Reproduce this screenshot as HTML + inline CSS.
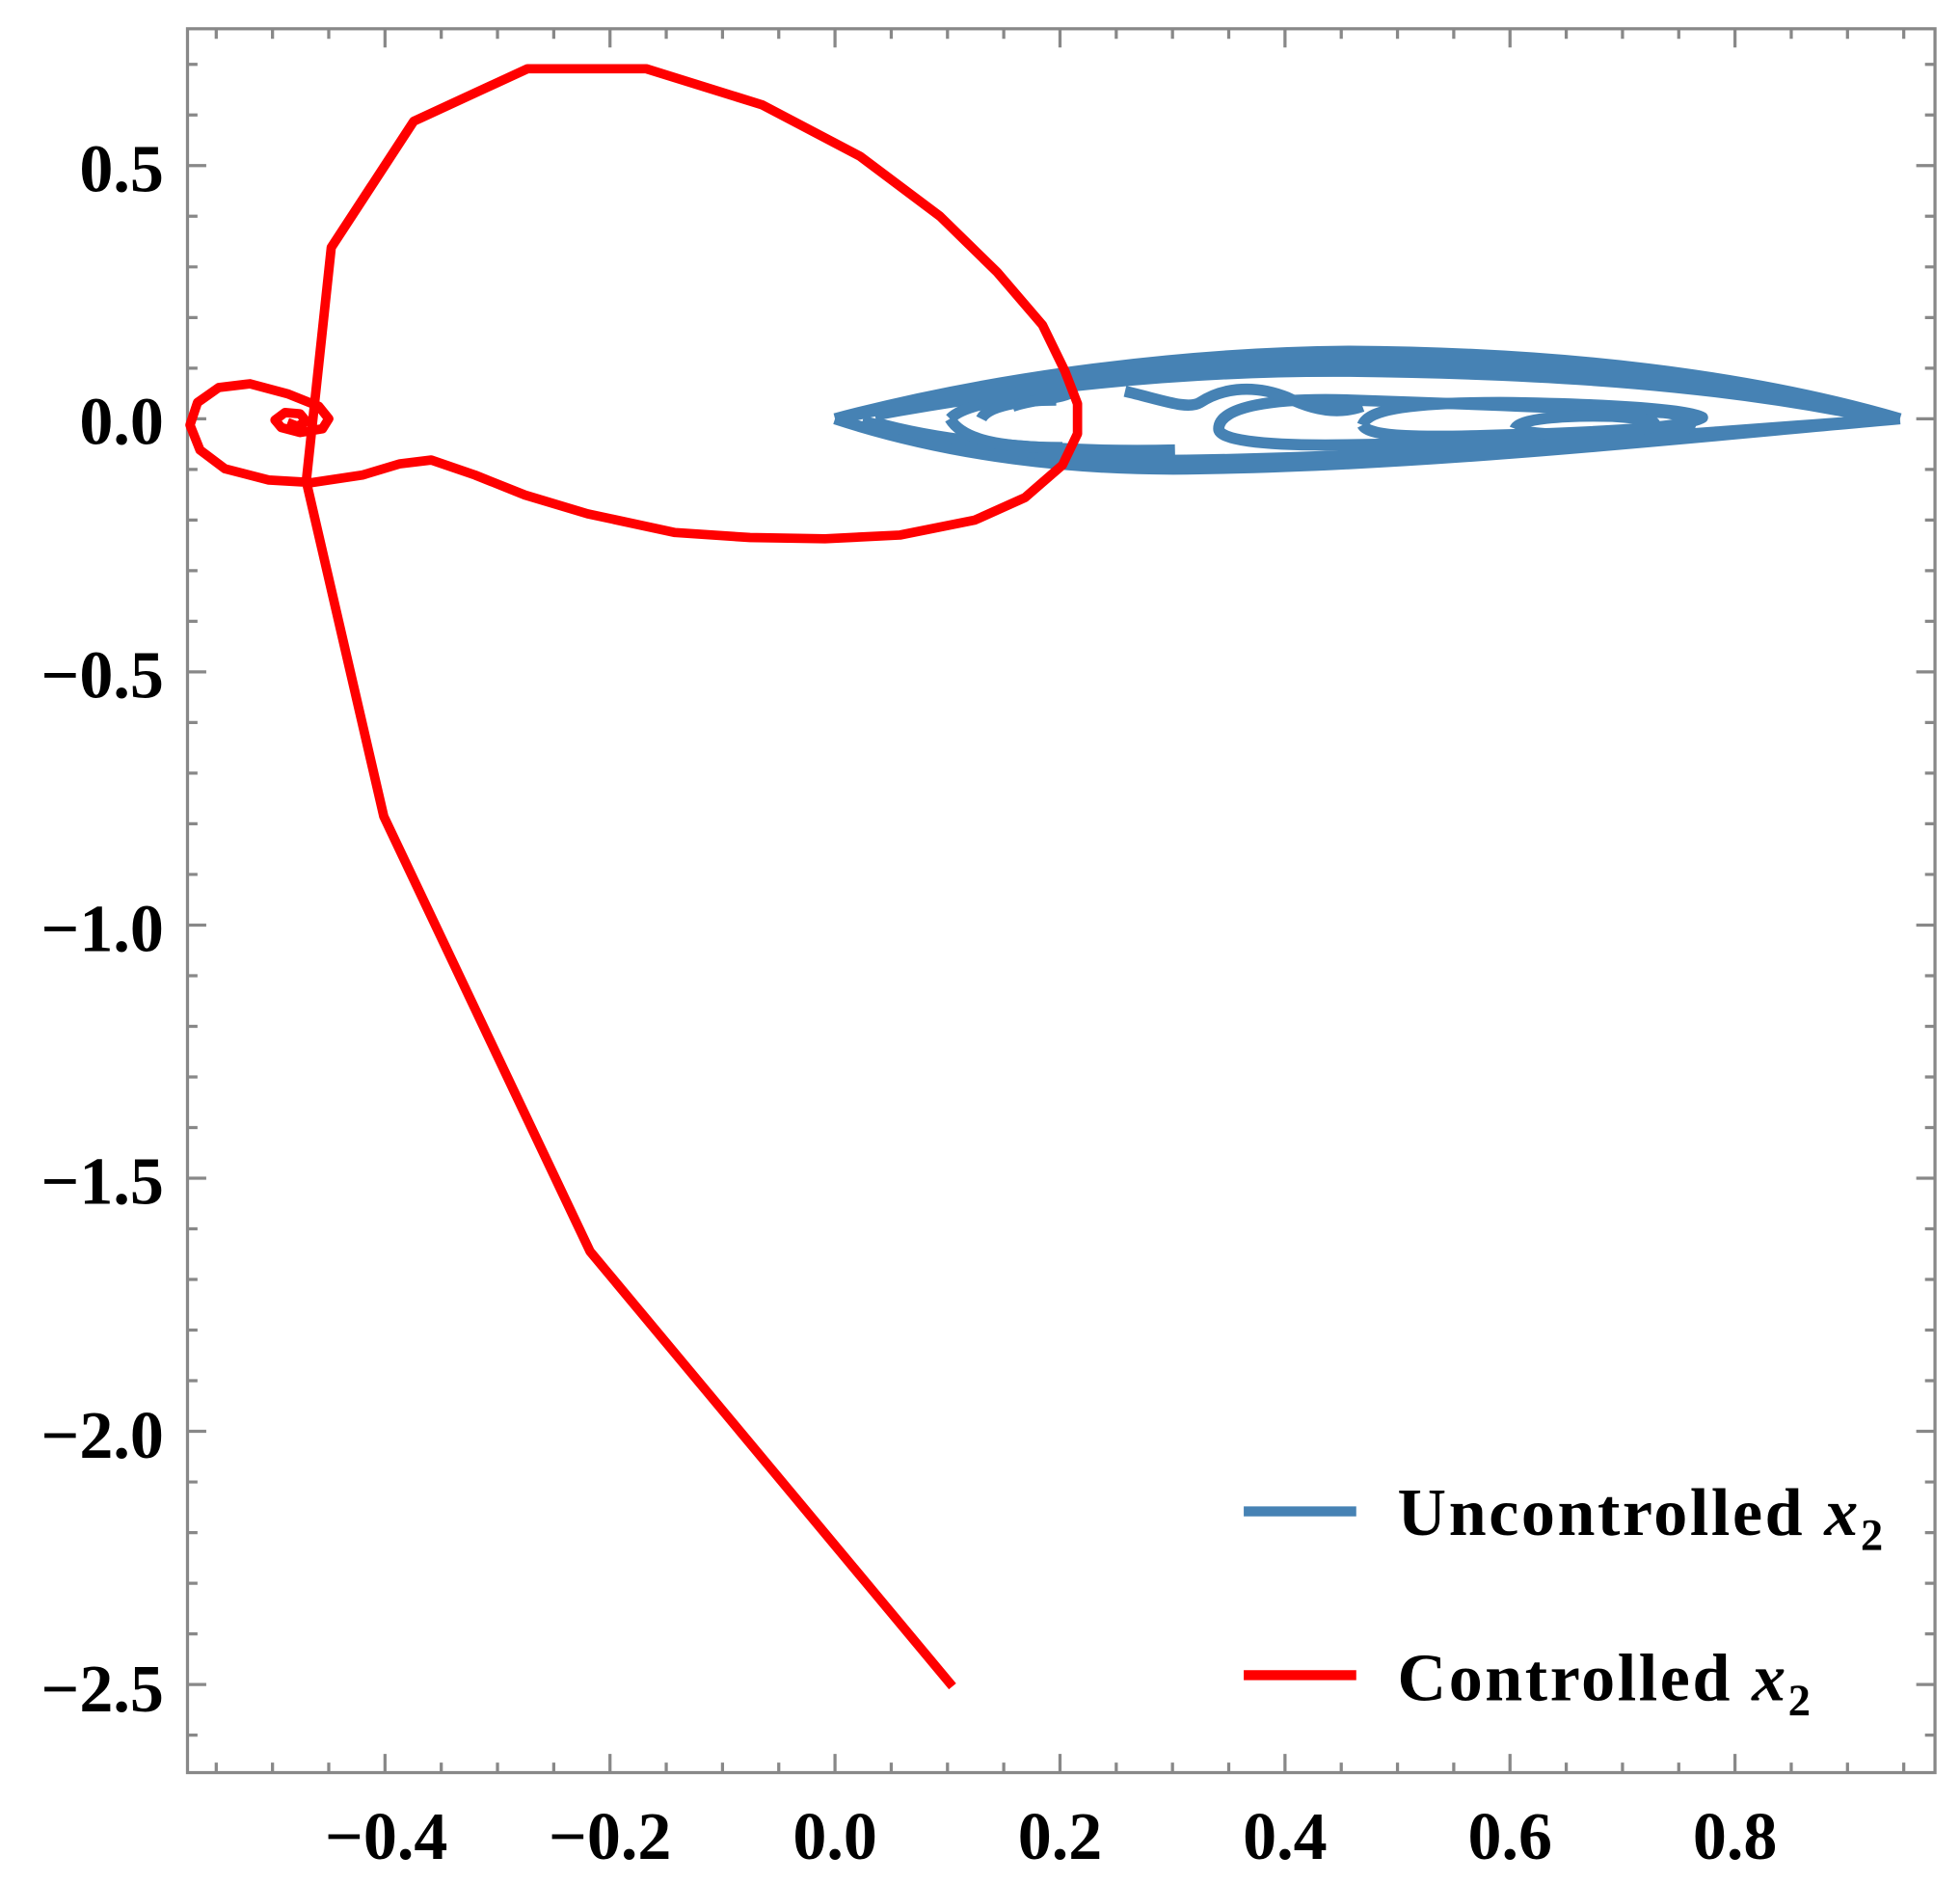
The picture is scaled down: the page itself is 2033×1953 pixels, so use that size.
<!DOCTYPE html>
<html><head><style>html,body{margin:0;padding:0;background:#fff}svg{display:block}</style></head>
<body>
<svg width="2033" height="1953" viewBox="0 0 1568 1506.3" xmlns="http://www.w3.org/2000/svg" font-family="Liberation Serif, serif" font-weight="bold">
<rect x="0" y="0" width="1568" height="1507" fill="#fff"/>
<g id="ticks" stroke="#888" stroke-width="2.5">
<path id="t" d=""/>
</g>
<script>
(function(){
var s='';
for(var i=-11;i<=19;i++){var v=i*0.05;var x=668+v*900;if(x<152||x>1546)continue;var L=(i%4==0)?15:8;
s+='M'+x+' 1418v-'+L+'M'+x+' 23v'+L;}
for(var j=-26;j<=7;j++){var v=j*0.1;var y=335-v*405;if(y<25||y>1416)continue;var L=(j%5==0)?15:8;
s+='M150 '+y+'h'+L+'M1548 '+y+'h-'+L;}
document.getElementById('t').setAttribute('d',s);
})();
</script>
<rect x="150" y="23" width="1398" height="1395" fill="none" stroke="#888" stroke-width="2.5"/>
<g font-size="54" text-anchor="end">
<text x="131" y="153">0.5</text>
<text x="131" y="355">0.0</text>
<text x="131" y="558">−0.5</text>
<text x="131" y="761">−1.0</text>
<text x="131" y="963">−1.5</text>
<text x="131" y="1166">−2.0</text>
<text x="131" y="1369">−2.5</text>
</g>
<g font-size="54" text-anchor="middle">
<text x="309" y="1487">−0.4</text>
<text x="488" y="1487">−0.2</text>
<text x="668" y="1487">0.0</text>
<text x="848" y="1487">0.2</text>
<text x="1028" y="1487">0.4</text>
<text x="1208" y="1487">0.6</text>
<text x="1388" y="1487">0.8</text>
</g>
<g fill="none" stroke="#4682b4" stroke-width="9" stroke-linejoin="round">
<path d="M668 335 C800 300 950 282 1080 281 C1250 282 1400 300 1520 335"/>
<path d="M680 333 C800 305 950 290 1080 289 C1250 291 1400 304 1515 335"/>
<path d="M700 332 C820 310 950 296 1080 297 C1250 299 1380 309 1500 334"/>
<path d="M668 335 C760 365 860 377 960 375 C1150 372 1350 350 1520 335"/>
<path d="M690 337 C780 360 870 370 960 368 C1150 365 1330 348 1505 336"/>
<path d="M700 338 C760 355 850 362 940 360"/>
<path d="M760 335 C770 325 800 318 840 318 M760 335 C770 352 800 358 850 358"/>
<path d="M785 335 C790 325 815 320 845 320"/>
<path d="M975 343 C975 325 1020 318 1080 320 C1140 322 1230 325 1330 330 C1360 333 1360 345 1330 347 C1250 352 1150 355 1060 356 C1010 356 975 352 975 343"/>
<path d="M1090 340 C1095 327 1130 322 1200 322 C1280 323 1350 327 1362 334 C1350 342 1280 346 1200 348 C1140 350 1095 350 1090 340"/>
<path d="M1212 343 C1215 335 1250 332 1290 333 C1320 335 1330 338 1320 342 C1290 348 1230 350 1212 343"/>
<path d="M900 313 C930 320 950 328 960 322 C975 312 1000 306 1030 318 C1050 328 1070 332 1090 325"/>
<path d="M810 325 C830 318 850 320 860 312"/>
</g>
<path fill="none" stroke="#ff0000" stroke-width="7.5" stroke-linejoin="round" d="M762 1349 L472 1001 L307 653 L245 385 L265 198 L331 97 L422 55 L517 55 L610 84 L688 125 L752 173 L798 218 L834 260 L852 297 L862 323 L862 347 L850 372 L820 398 L780 416 L720 428 L660 431 L600 430 L540 426 L470 411 L420 396 L380 380 L345 368 L320 371 L290 380 L250 386 L215 384 L180 375 L160 360 L152 340 L158 322 L175 310 L200 307 L230 315 L255 325 L263 335 L258 343 L240 346 L225 342 L220 336 L228 330 L240 331 L245 337 L238 341 L230 338"/>
<line x1="995" y1="1209" x2="1085" y2="1209" stroke="#4682b4" stroke-width="8"/>
<line x1="995" y1="1340" x2="1085" y2="1340" stroke="#ff0000" stroke-width="8"/>
<g font-size="54" letter-spacing="2">
<text x="1118" y="1228">Uncontrolled <tspan font-style="italic">x</tspan><tspan font-size="36" dy="12">2</tspan></text>
<text x="1118" y="1360">Controlled <tspan font-style="italic">x</tspan><tspan font-size="36" dy="12">2</tspan></text>
</g>
</svg>
</body></html>
